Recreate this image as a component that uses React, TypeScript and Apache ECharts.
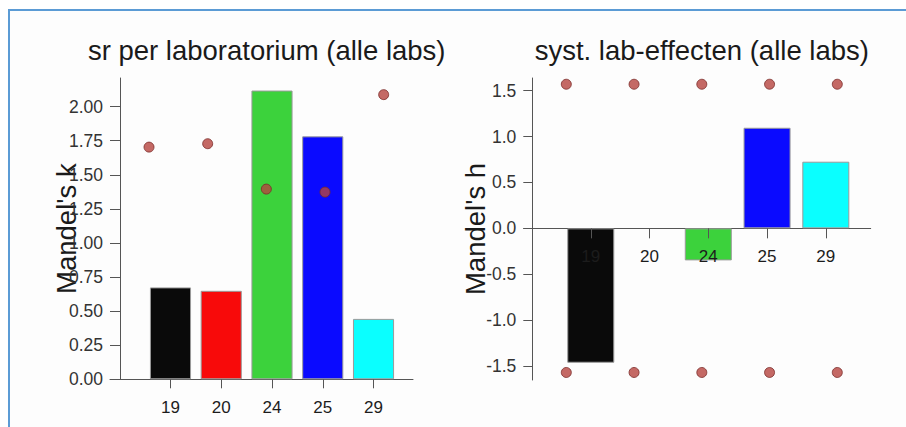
import React, { useEffect, useRef } from "react";
import * as echarts from "echarts";

const categories = ["19", "20", "24", "25", "29"];
const barColors = ["#0a0a0a", "#f80a0a", "#3cd23c", "#0a0aff", "#0affff"];
const kBars = [0.674, 0.649, 2.118, 1.782, 0.443];
const kDots = [1.703, 1.728, 1.395, 1.373, 2.088];
const hBars = [-1.464, 0, -0.349, 1.096, 0.726];
const hUpper = [1.57, 1.57, 1.57, 1.57, 1.57];
const hLower = [-1.57, -1.57, -1.57, -1.57, -1.57];
const kTicks = [0, 0.25, 0.5, 0.75, 1.0, 1.25, 1.5, 1.75, 2.0];
const hTicks = [-1.5, -1.0, -0.5, 0, 0.5, 1.0, 1.5];
const titles = ["sr per laboratorium (alle labs)", "syst. lab-effecten (alle labs)"];
const yNames = ["Mandel's k", "Mandel's h"];

const FONT = "'Liberation Sans', Arial, Helvetica, sans-serif";
const AXIS_COLOR = "#555";
const LABEL_COLOR = "#333";
const CAT_LABEL_COLOR = "#1c1c1c";
const TEXT_COLOR = "#1a1a1a";

export default function App() {
  const ref = useRef<HTMLDivElement>(null);
  useEffect(() => {
    if (!ref.current) return;
    const chart = echarts.init(ref.current, undefined, { renderer: "svg" });

    const barItems = (vals: number[]) =>
      vals.map((v, i) => ({
        value: v,
        itemStyle: {
          color: barColors[i],
          borderColor: "#9a9a9a",
          borderWidth: v === 0 ? 0 : 1,
        },
      }));
    const dotData = (vals: number[]) => vals.map((v, i) => [i, v]);

    const kMin = 0, kMax = 2.21;
    const hMin = -1.652, hMax = 1.638;
    const kGridH = 301.3;
    const hGridH = 302;
    // shift of the category axis so it sits at value 0 of the y scale
    const zeroOffset = (min: number, max: number, h: number) => -((0 - min) / (max - min)) * h;

    const valueXAxis = (gridIndex: number, min: number, max: number) => ({
      type: "value",
      gridIndex,
      min,
      max,
      axisLine: { show: true, onZero: true, lineStyle: { color: AXIS_COLOR, width: 1 } },
      axisTick: { show: false },
      axisLabel: { show: false },
      splitLine: { show: false },
    });
    const catXAxis = (gridIndex: number, tickLen: number, offset: number) => ({
      type: "category",
      gridIndex,
      data: categories,
      z: 5,
      position: "bottom",
      offset,
      boundaryGap: true,
      axisLine: { show: false, onZero: false },
      axisTick: { show: true, alignWithLabel: true, length: tickLen, lineStyle: { color: AXIS_COLOR } },
      axisLabel: { show: true, margin: 20, fontSize: 17, color: CAT_LABEL_COLOR, fontFamily: FONT },
      splitLine: { show: false },
    });
    const visYAxis = (
      gridIndex: number,
      min: number,
      max: number,
      ticks: number[],
      digits: number,
      offset: number,
      tickLen: number,
      margin: number,
      name: string,
      nameGap: number
    ) => ({
      type: "value",
      gridIndex,
      min,
      max,
      offset,
      position: "left",
      name,
      nameLocation: "middle",
      nameGap,
      nameMoveOverlap: false,
      nameTextStyle: { fontSize: 27.5, color: TEXT_COLOR, fontFamily: FONT },
      axisLine: { show: true, onZero: false, lineStyle: { color: AXIS_COLOR, width: 1 } },
      axisTick: { show: true, length: tickLen, customValues: ticks, lineStyle: { color: AXIS_COLOR } },
      axisLabel: {
        show: true,
        margin,
        fontSize: 17.5,
        color: LABEL_COLOR,
        fontFamily: FONT,
        customValues: ticks,
        formatter: (v: number) => v.toFixed(digits),
      },
      splitLine: { show: false },
    });
    const hidYAxis = (gridIndex: number, min: number, max: number) => ({
      type: "value",
      gridIndex,
      min,
      max,
      show: false,
      splitLine: { show: false },
    });

    const dotStyle = { color: "#b5443f", borderColor: "#7a2a28", borderWidth: 1 };

    chart.setOption({
      animation: false,
      backgroundColor: "transparent",
      textStyle: { fontFamily: FONT },
      grid: [
        { left: 110, width: 303, top: 78, height: kGridH },
        { left: 145.1, width: 253.8, top: 78, height: kGridH },
        { left: 523.7, width: 347, top: 78, height: hGridH },
        { left: 561.4, width: 293.8, top: 78, height: hGridH },
      ],
      xAxis: [
        valueXAxis(0, -0.665, 4.5),
        catXAxis(1, 9, zeroOffset(kMin, kMax, kGridH)),
        valueXAxis(2, -0.629, 4.493),
        catXAxis(3, 10, zeroOffset(hMin, hMax, hGridH)),
      ],
      yAxis: [
        visYAxis(0, kMin, kMax, kTicks, 2, -10, 10, 17, yNames[0], 40),
        hidYAxis(1, kMin, kMax),
        visYAxis(2, hMin, hMax, hTicks, 1, -8.6, 9, 16, yNames[1], 42.5),
        hidYAxis(3, hMin, hMax),
      ],
      graphic: [
        {
          type: "text",
          x: 266.7,
          y: 50,
          style: {
            text: titles[0],
            fontSize: 27.5,
            fontFamily: FONT,
            fill: TEXT_COLOR,
            align: "center",
            verticalAlign: "middle",
          },
        },
        {
          type: "text",
          x: 701.8,
          y: 50,
          style: {
            text: titles[1],
            fontSize: 27.5,
            fontFamily: FONT,
            fill: TEXT_COLOR,
            align: "center",
            verticalAlign: "middle",
          },
        },
      ],
      series: [
        {
          type: "bar",
          xAxisIndex: 1,
          yAxisIndex: 1,
          data: barItems(kBars),
          barWidth: "81%",
        },
        {
          type: "scatter",
          xAxisIndex: 0,
          yAxisIndex: 0,
          data: dotData(kDots),
          symbolSize: 10,
          itemStyle: dotStyle,
          z: 4,
        },
        {
          type: "bar",
          xAxisIndex: 3,
          yAxisIndex: 3,
          data: barItems(hBars),
          barWidth: "80%",
        },
        {
          type: "scatter",
          xAxisIndex: 2,
          yAxisIndex: 2,
          data: dotData(hUpper),
          symbolSize: 10,
          itemStyle: dotStyle,
          z: 4,
        },
        {
          type: "scatter",
          xAxisIndex: 2,
          yAxisIndex: 2,
          data: dotData(hLower),
          symbolSize: 10,
          itemStyle: dotStyle,
          z: 4,
        },
      ],
    });
    return () => chart.dispose();
  }, []);

  return (
    <div style={{ position: "fixed", left: 0, top: 0, width: 906, height: 427, background: "#ffffff", overflow: "hidden" }}>
      <div
        style={{
          position: "absolute",
          left: 8,
          top: 9,
          width: 1000,
          height: 1000,
          borderLeft: "2px solid #5b9bd5",
          borderTop: "2px solid #5b9bd5",
          background: "#fdfdfd",
        }}
      />
      <div ref={ref} style={{ position: "absolute", left: 0, top: 0, width: 906, height: 427 }} />
    </div>
  );
}
